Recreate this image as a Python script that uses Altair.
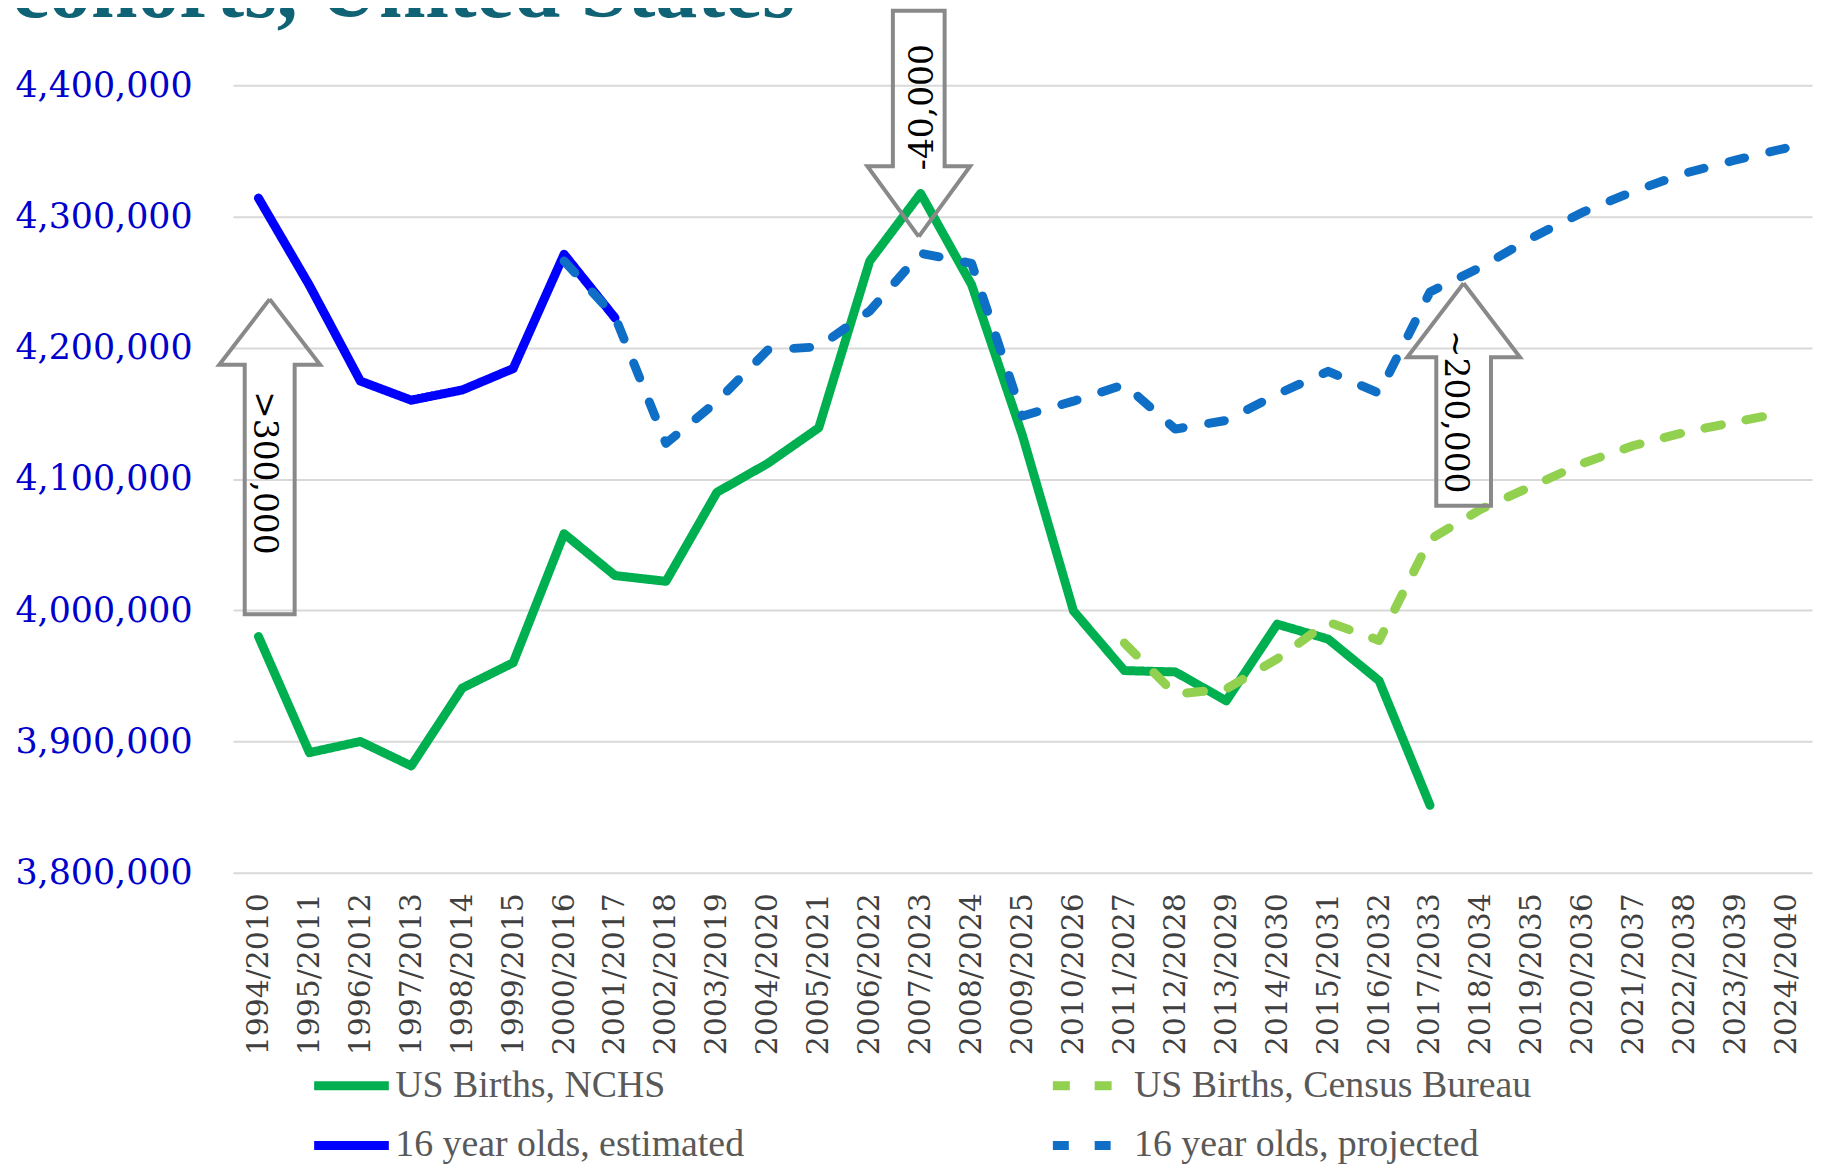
import altair as alt
import pandas as pd

# ---------------- data ----------------
categories = [
    "1994/2010", "1995/2011", "1996/2012", "1997/2013", "1998/2014", "1999/2015",
    "2000/2016", "2001/2017", "2002/2018", "2003/2019", "2004/2020", "2005/2021",
    "2006/2022", "2007/2023", "2008/2024", "2009/2025", "2010/2026", "2011/2027",
    "2012/2028", "2013/2029", "2014/2030", "2015/2031", "2016/2032", "2017/2033",
    "2018/2034", "2019/2035", "2020/2036", "2021/2037", "2022/2038", "2023/2039",
    "2024/2040",
]

us_births_nchs = [
    3980000, 3891500, 3900000, 3881400, 3940700, 3960000, 4058300, 4026400,
    4022000, 4089800, 4111900, 4139000, 4266000, 4317500, 4248000, 4133000,
    3999500, 3954000, 3953000, 3931000, 3989400, 3978000, 3946300, 3851400,
    None, None, None, None, None, None, None,
]

us_births_census = [
    None, None, None, None, None, None, None, None,
    None, None, None, None, None, None, None, None,
    None, 3975000, 3936000, 3940000, 3963000, 3991000, 3977000, 4054000,
    4077000, 4094500, 4112000, 4125500, 4135500, 4143500, 4151000,
]

sixteen_estimated = [
    4314000, 4247500, 4174600, 4160000, 4167800, 4184100, 4271200, 4222700,
    None, None, None, None, None, None, None, None,
    None, None, None, None, None, None, None, None,
    None, None, None, None, None, None, None,
]

sixteen_projected = [
    None, None, None, None, None, None, 4266000, 4223700,
    4127100, 4159000, 4198300, 4200700, 4228000, 4272000, 4264300, 4148000,
    4159300, 4172000, 4138000, 4144600, 4164600, 4182000, 4165300, 4242500,
    4261500, 4283800, 4303300, 4319200, 4332900, 4343000, 4352200,
]

series_names = [
    "US Births, NCHS",
    "US Births, Census Bureau",
    "16 year olds, estimated",
    "16 year olds, projected",
]
series_values = [us_births_nchs, us_births_census, sixteen_estimated, sixteen_projected]

y_ticks = [3800000, 3900000, 4000000, 4100000, 4200000, 4300000, 4400000]

title_text = "cohorts, United States"

# block-arrow annotations (in category-index / value units)
arrow_labels = [">300,000", "-40,000", "~200,000"]
arrow_center = [0.22, 12.963, 23.66]
arrow_tip = [4237000, 4284600, 4249100]
arrow_head_base = [4187000, 4338300, 4192700]
arrow_tail = [3997000, 4456700, 4079600]
arrow_head_half = [0.99, 1.009, 1.107]
arrow_shaft_half = [0.49, 0.508, 0.537]
arrow_text_idx = [0.10, 13.055, 23.49]
arrow_text_value = [4104600, 4383300, 4151200]
arrow_text_angle = [90, 270, 90]

# ---------------- build tables ----------------
rows = []
for name, vals in zip(series_names, series_values):
    for i, v in enumerate(vals):
        if v is not None:
            rows.append({"series": name, "idx": i, "cat": categories[i], "value": v})
df = pd.DataFrame(rows)

arrow_rows = []
for a in range(len(arrow_labels)):
    c = arrow_center[a]
    hh = arrow_head_half[a]
    sh = arrow_shaft_half[a]
    pts = [
        (c, arrow_tip[a]),
        (c + hh, arrow_head_base[a]),
        (c + sh, arrow_head_base[a]),
        (c + sh, arrow_tail[a]),
        (c - sh, arrow_tail[a]),
        (c - sh, arrow_head_base[a]),
        (c - hh, arrow_head_base[a]),
        (c, arrow_tip[a]),
    ]
    for k, (x, y) in enumerate(pts):
        arrow_rows.append({"arrow": a, "k": k, "idx": x, "value": y})
arrow_df = pd.DataFrame(arrow_rows)

text_df = pd.DataFrame({
    "label": arrow_labels,
    "idx": arrow_text_idx,
    "value": arrow_text_value,
    "angle": arrow_text_angle,
})

colors = ["#00B050", "#92D050", "#0000FF", "#0F6FC6"]
dashes = [[1, 0], [17, 25], [1, 0], [16, 26]]

label_expr = "[" + ",".join("'" + c + "'" for c in categories) + "][datum.value]"

x_scale = alt.Scale(domain=[-0.5, len(categories) - 0.5], nice=False, zero=False)
y_scale = alt.Scale(domain=[y_ticks[0], y_ticks[-1]], nice=False, zero=False)

legend = alt.Legend(
    title=None,
    orient="none",
    legendX=100,
    legendY=986,
    direction="horizontal",
    columns=2,
    columnPadding=291,
    rowPadding=22,
    symbolType="M-3,0L3,0",
    symbolSize=625,
    symbolStrokeWidth=9,
    labelFont="Liberation Serif",
    labelFontSize=38,
    labelColor="#595959",
    labelOffset=25,
    labelLimit=0,
    padding=0,
)

x_axis = alt.Axis(
    values=list(range(len(categories))),
    labelExpr=label_expr,
    labelAngle=270,
    labelFont="DejaVu Serif",
    labelFontSize=30,
    labelColor="#404040",
    labelPadding=20,
    labelOverlap=False,
    labelFlush=False,
    ticks=False,
    domain=False,
    grid=False,
)
y_axis = alt.Axis(
    values=y_ticks,
    labelExpr="format(datum.value, ',')",
    labelFont="DejaVu Serif",
    labelFontSize=35,
    labelColor="#0000CC",
    labelPadding=41,
    ticks=False,
    domain=False,
    grid=True,
    gridColor="#D9D9D9",
    gridWidth=2,
)

lines = alt.Chart(df).mark_line(strokeWidth=9, strokeCap="round", strokeJoin="round").encode(
    x=alt.X("idx:Q", scale=x_scale, title=None, axis=x_axis),
    y=alt.Y("value:Q", scale=y_scale, title=None, axis=y_axis),
    color=alt.Color("series:N", scale=alt.Scale(domain=series_names, range=colors), legend=legend),
    strokeDash=alt.StrokeDash("series:N", scale=alt.Scale(domain=series_names, range=dashes), legend=legend),
)

arrows = alt.Chart(arrow_df).mark_line(color="#898989", strokeWidth=4, strokeJoin="miter").encode(
    x=alt.X("idx:Q", title=None, axis=x_axis),
    y=alt.Y("value:Q", title=None, axis=y_axis),
    detail="arrow:N",
    order="k:Q",
)

arrow_text = alt.Chart(text_df).mark_text(
    font="DejaVu Serif", fontSize=33, color="#000000", align="center", baseline="middle"
).encode(
    x=alt.X("idx:Q", title=None, axis=x_axis),
    y=alt.Y("value:Q", title=None, axis=y_axis),
    text="label:N",
    angle=alt.Angle("angle:Q", scale=None),
)

title = alt.Chart(pd.DataFrame({"t": [title_text]})).mark_text(
    align="left", baseline="alphabetic", font="Liberation Serif", fontWeight="bold",
    fontSize=84, color="#0F6375",
).encode(x=alt.value(-222), y=alt.value(-69), text="t:N")

chart = alt.layer(lines, arrows, arrow_text, title).properties(
    width=1586,
    height=791,
    autosize=alt.AutoSizeParams(type="none"),
    padding={"left": 226, "top": 75, "right": 7, "bottom": 291},
    background="#FFFFFF",
).configure_view(stroke=None)

chart.save("out.html", embed_options={"renderer": "svg", "actions": False})
